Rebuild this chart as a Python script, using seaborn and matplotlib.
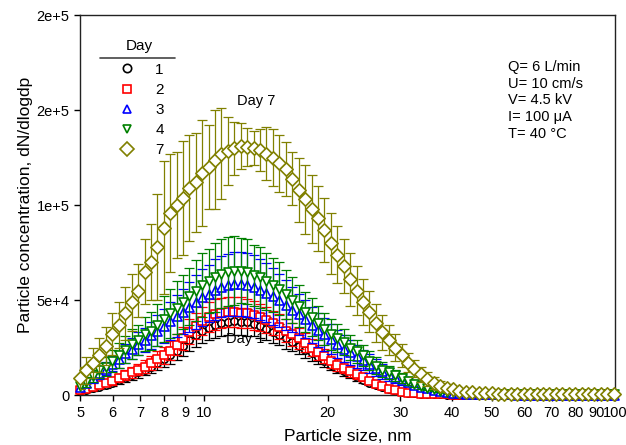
import numpy as np
import seaborn as sns
from matplotlib import pyplot as plt
from matplotlib.lines import Line2D
from matplotlib.ticker import FixedLocator, NullLocator

# particle sizes (nm)
sizes = [5.00, 5.18, 5.37, 5.57, 5.77, 5.99, 6.20, 6.43, 6.67, 6.91,
         7.17, 7.43, 7.70, 7.98, 8.27, 8.58, 8.89, 9.22, 9.55, 9.91,
         10.27, 10.64, 11.03, 11.44, 11.86, 12.29, 12.74, 13.21, 13.69, 14.19,
         14.71, 15.25, 15.81, 16.39, 16.99, 17.61, 18.26, 18.93, 19.62, 20.34,
         21.09, 21.86, 22.66, 23.49, 24.35, 25.24, 26.17, 27.12, 28.12, 29.15,
         30.22, 31.32, 32.47, 33.66, 34.89, 36.17, 37.50, 38.87, 40.29, 41.77,
         43.30, 44.89, 46.53, 48.23, 50.00, 51.83, 53.73, 55.70, 57.74, 59.85,
         62.05, 64.32, 66.68, 69.12, 71.65, 74.28, 77.00, 79.82, 82.74, 85.77,
         88.91, 92.17, 95.55, 99.05]

# concentrations, in thousands
day1 = [2, 2.8, 3.6, 4.5, 5.5, 6.5, 7.8, 9, 10.5, 12,
        13.5, 15, 17, 19, 21, 23.5, 26, 29, 31.5, 34,
        35.5, 37, 38, 38.5, 38.8, 38.7, 38.3, 37.5, 36.5, 35,
        33.5, 31.8, 30, 28, 26, 24, 22, 20, 18, 16,
        14.3, 12.7, 11, 9.5, 8, 6.6, 5.3, 4.2, 3.2, 2.4,
        1.8, 1.3, 1, 0.8, 0.6, 0.5, 0.4, 0.3, 0.3, 0.3,
        0.2, 0.2, 0.2, 0.2, 0.2, 0.2, 0.2, 0.2, 0.2, 0.2,
        0.2, 0.2, 0.2, 0.2, 0.2, 0.2, 0.2, 0.2, 0.2, 0.2,
        0.2, 0.2, 0.2, 0.2]
day2 = [2.5, 3.5, 4.5, 5.5, 6.5, 7.5, 9, 10.5, 12, 13.5,
        15, 17, 19, 21, 23.5, 26.5, 30, 33.5, 36.5, 39,
        41, 42.5, 43.3, 43.7, 43.8, 43.5, 43, 42, 41, 39.5,
        38, 36, 34, 32, 30, 27.5, 25, 22.5, 20.5, 18,
        16, 14.5, 12.5, 11, 9.5, 7.5, 6, 4.6, 3.4, 2.5,
        1.8, 1.3, 1.0, 0.8, 0.6, 0.5, 0.4, 0.4, 0.3, 0.3,
        0.2, 0.2, 0.2, 0.2, 0.2, 0.2, 0.2, 0.2, 0.2, 0.2,
        0.2, 0.2, 0.2, 0.2, 0.2, 0.2, 0.2, 0.2, 0.2, 0.2,
        0.2, 0.2, 0.2, 0.2]
day3 = [4.5, 6.5, 9, 11.5, 14, 16.5, 19, 22, 24.5, 27,
        29, 31.5, 34, 36.5, 39, 41.5, 44, 46.5, 49, 51.5,
        53.5, 55.5, 57, 58, 58.5, 58.5, 58, 57, 55.5, 54,
        52, 50, 47.5, 45, 42.5, 40, 37, 34.5, 32, 29.5,
        27, 24.5, 22.5, 20.5, 18.5, 16.5, 14.5, 12.5, 11, 9.5,
        8, 6.8, 5.6, 4.5, 3.6, 2.8, 2.2, 1.7, 1.3, 1,
        0.8, 0.7, 0.6, 0.5, 0.5, 0.4, 0.4, 0.4, 0.3, 0.3,
        0.3, 0.3, 0.3, 0.3, 0.3, 0.3, 0.3, 0.3, 0.3, 0.3,
        0.3, 0.3, 0.3, 0.3]
day4 = [5, 7, 10, 13, 15, 18, 21, 24, 27, 29,
        32, 34, 37, 40, 43, 46, 49, 52, 55, 58,
        60, 62, 64, 65, 65.5, 65.5, 65, 63, 62, 60,
        58, 56, 53, 50, 47, 44, 41, 38, 35, 32,
        30, 28, 25, 23, 21, 18, 15.5, 13.5, 12, 10.5,
        9, 7.5, 6, 5, 4, 3, 2.4, 1.8, 1.4, 1.1,
        0.9, 0.8, 0.7, 0.6, 0.6, 0.5, 0.5, 0.5, 0.4, 0.4,
        0.4, 0.4, 0.4, 0.4, 0.4, 0.4, 0.4, 0.4, 0.4, 0.4,
        0.4, 0.4, 0.4, 0.4]
day7 = [9, 13, 17, 21, 26, 32, 37, 43, 49, 55,
        65, 70, 78, 88, 96, 100, 104, 109, 112, 117,
        120, 124, 127, 128.5, 130, 131, 130.5, 130, 129, 127,
        125, 122, 119, 114, 108, 103, 98, 93, 87, 80,
        74, 68, 61, 55, 49, 44, 38, 33, 29, 25,
        21, 17, 14, 11, 8.5, 6.5, 5, 3.8, 3, 2.3,
        1.8, 1.5, 1.2, 1.0, 0.9, 0.8, 0.8, 0.7, 0.7, 0.7,
        0.6, 0.6, 0.6, 0.6, 0.5, 0.5, 0.5, 0.5, 0.5, 0.5,
        0.5, 0.5, 0.5, 0.5]

# standard deviations, in thousands
err1 = [0.8, 1, 1.2, 1.4, 1.6, 1.8, 2, 2.2, 2.5, 2.8,
        3, 3.3, 3.6, 4, 4.5, 5, 5.5, 6, 6, 6.5,
        6.5, 7, 7, 7, 7, 7, 7, 6.5, 6.5, 6,
        6, 5.5, 5.5, 5, 4.5, 4.2, 4, 3.6, 3.3, 3,
        2.7, 2.4, 2.1, 1.8, 1.5, 1.3, 1.1, 0.9, 0.7, 0.6,
        0.5, 0.4, 0.3, 0.3, 0.2, 0.2, 0.2, 0.2, 0.2, 0.2,
        0.2, 0.2, 0.2, 0.2, 0.2, 0.2, 0.2, 0.2, 0.2, 0.2,
        0.2, 0.2, 0.2, 0.2, 0.2, 0.2, 0.2, 0.2, 0.2, 0.2,
        0.2, 0.2, 0.2, 0.2]
err2 = [1, 1.2, 1.4, 1.6, 1.8, 2, 2.2, 2.5, 2.8, 3,
        3.3, 3.6, 4, 4.5, 5, 5.5, 6, 6.5, 7, 7.5,
        8, 8, 8, 8, 8, 8, 7.5, 7.5, 7, 7,
        6.5, 6.5, 6, 6, 5.5, 5, 4.5, 4, 3.8, 3.5,
        3.2, 3, 2.7, 2.4, 2.1, 1.8, 1.5, 1.2, 1, 0.8,
        0.6, 0.5, 0.4, 0.3, 0.3, 0.2, 0.2, 0.2, 0.2, 0.2,
        0.2, 0.2, 0.2, 0.2, 0.2, 0.2, 0.2, 0.2, 0.2, 0.2,
        0.2, 0.2, 0.2, 0.2, 0.2, 0.2, 0.2, 0.2, 0.2, 0.2,
        0.2, 0.2, 0.2, 0.2]
err3 = [1.5, 2, 2.5, 3, 3.5, 4, 4.5, 5, 5.5, 6,
        6.5, 7, 8, 9, 10, 11, 12, 13, 14, 15,
        15, 16, 16, 16.5, 17, 17, 17, 16.5, 16, 15.5,
        15, 14, 13, 12, 11, 10, 9.5, 9, 8.5, 8,
        7.5, 7, 6.5, 6, 5.5, 5, 4.5, 4, 3.5, 3,
        2.5, 2, 1.8, 1.5, 1.2, 1, 0.8, 0.6, 0.5, 0.4,
        0.3, 0.3, 0.3, 0.3, 0.3, 0.3, 0.3, 0.3, 0.3, 0.3,
        0.3, 0.3, 0.3, 0.3, 0.3, 0.3, 0.3, 0.3, 0.3, 0.3,
        0.3, 0.3, 0.3, 0.3]
err4 = [2, 2.5, 3, 4, 5, 6, 6.5, 7, 8, 8,
        9, 10, 11, 12, 13, 14, 14, 15, 16, 17,
        17, 18, 18, 18, 18, 17, 17, 16, 16, 15,
        14, 14, 13, 12, 11, 10.5, 10, 9, 8.5, 8,
        7.5, 7, 6.5, 6, 5.5, 5, 4.5, 4, 3.5, 3,
        2.5, 2, 1.8, 1.5, 1.2, 1, 0.8, 0.6, 0.5, 0.4,
        0.3, 0.3, 0.3, 0.3, 0.3, 0.3, 0.3, 0.3, 0.3, 0.3,
        0.3, 0.3, 0.3, 0.3, 0.3, 0.3, 0.3, 0.3, 0.3, 0.3,
        0.3, 0.3, 0.3, 0.3]
err7 = [6, 7, 8, 9, 10, 11, 12, 14, 15, 14,
        17, 20, 28, 35, 31, 28, 30, 28, 26, 28,
        22, 26, 24, 18, 14, 12, 10, 9, 11, 14,
        15, 15, 14, 14, 17, 18, 18, 17, 17, 16,
        15, 14, 14, 13, 12, 11, 10, 9, 8, 7,
        6, 5, 4.5, 4, 3.5, 3, 2.5, 2, 1.5, 1.2,
        1, 0.8, 0.6, 0.5, 0.4, 0.4, 0.3, 0.3, 0.3, 0.3,
        0.3, 0.3, 0.3, 0.3, 0.3, 0.3, 0.3, 0.3, 0.3, 0.3,
        0.3, 0.3, 0.3, 0.3]

days = ['1', '2', '3', '4', '7']
series = [day1, day2, day3, day4, day7]
errors = [err1, err2, err3, err4, err7]
colors = ['black', '#ff0000', '#0000ff', '#008000', '#808000']
markers = ['o', 's', '^', 'v', 'D']
msizes = [28, 34, 42, 42, 46]

sns.set_style('ticks')
plt.rcParams['font.family'] = ['Liberation Sans', 'DejaVu Sans']
plt.rcParams['text.color'] = 'black'
plt.rcParams['axes.labelcolor'] = 'black'

fig = plt.figure(figsize=(6.26, 4.45), dpi=100)
ax = fig.add_axes([0.128, 0.112, 0.855, 0.854])

for i in range(len(days)):
    y = np.array(series[i]) * 1000
    e = np.array(errors[i]) * 1000
    ax.errorbar(sizes, y, yerr=e, fmt='none', ecolor=colors[i], elinewidth=0.9,
                capsize=3.5, capthick=0.9, zorder=2 + i)
    sns.scatterplot(x=sizes, y=y, marker=markers[i], s=msizes[i], color='white',
                    edgecolor=colors[i], linewidth=1.2, ax=ax, zorder=2.5 + i,
                    clip_on=False, legend=False)

ax.set_xscale('log')
ax.set_xlim(5, 100)
ax.set_ylim(0, 2e5)
xt = [5, 6, 7, 8, 9, 10, 20, 30, 40, 50, 60, 70, 80, 90, 100]
ax.xaxis.set_major_locator(FixedLocator(xt))
ax.xaxis.set_minor_locator(NullLocator())
ax.set_xticklabels([str(t) for t in xt])
ax.yaxis.set_major_locator(FixedLocator([0, 5e4, 1e5, 1.5e5, 2e5]))
ax.set_yticklabels(['0', '5e+4', '1e+5', '2e+5', '2e+5'])
ax.tick_params(direction='out', length=4, width=1, labelsize=10.5, colors='black')
for s in ax.spines.values():
    s.set_color('#222222')
    s.set_linewidth(1)

ax.set_xlabel('Particle size, nm', fontsize=12.5, labelpad=7)
ax.set_ylabel('Particle concentration, dN/dlogdp', fontsize=12.5, labelpad=3)

# legend
handles = [Line2D([], [], ls='none', marker=markers[i], markersize=6 if i < 4 else 7,
                  markerfacecolor='white', markeredgecolor=colors[i], markeredgewidth=1.2)
           for i in range(len(days))]
leg = ax.legend(handles, days, title='Day', loc='upper left', bbox_to_anchor=(0.052, 0.957),
                frameon=False, fontsize=11, title_fontsize=11, labelspacing=0.4,
                handlelength=1.5, handletextpad=1.1, borderpad=0)
leg._legend_box.sep = 7
ax.plot([0.037, 0.178], [0.887, 0.887], color='#444444', lw=1.2, transform=ax.transAxes)

ax.text(12.0, 1.55e5, 'Day 7', fontsize=10.5, ha='left', va='center', zorder=20)
ax.text(11.3, 2.95e4, 'Day 1', fontsize=10.5, ha='left', va='center', zorder=20)
ax.text(0.80, 0.882, 'Q= 6 L/min\nU= 10 cm/s\nV= 4.5 kV\nI= 100 \u03bcA\nT= 40 \u00b0C',
        transform=ax.transAxes, fontsize=10.5, ha='left', va='top', linespacing=1.25)

fig.savefig('out.png', dpi=100)
